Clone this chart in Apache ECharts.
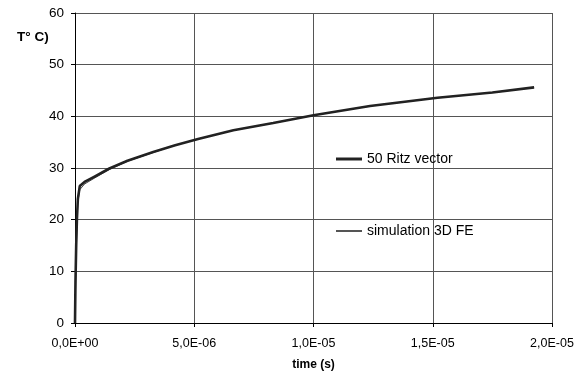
<!DOCTYPE html>
<html><head><meta charset="utf-8">
<script src="https://cdn.jsdelivr.net/npm/echarts@6/dist/echarts.min.js"></script>
<style>html,body{margin:0;padding:0;background:#fff}#c{width:588px;height:383px}</style>
</head><body><div id="c"></div>
<script>
var seriesNames = ['50 Ritz vector', 'simulation 3D FE'];
var ritzTime = [0, 0.02e-6, 0.05e-6, 0.08e-6, 0.12e-6, 0.2e-6, 0.4e-6, 0.8e-6, 1.44e-6, 2.2e-6, 3.28e-6, 4.2e-6, 5.16e-6, 6.64e-6, 8.31e-6, 10.0e-6, 12.37e-6, 15.2e-6, 17.5e-6, 19.25e-6];
var ritzTemp = [0, 8, 15, 20, 24, 26.5, 27.3, 28.3, 29.9, 31.4, 33.1, 34.4, 35.6, 37.3, 38.7, 40.2, 42.0, 43.6, 44.6, 45.6];
var feTime = [0, 0.02e-6, 0.05e-6, 0.08e-6, 0.12e-6, 0.2e-6, 0.4e-6, 0.8e-6, 1.44e-6, 2.2e-6, 3.28e-6, 4.2e-6, 5.16e-6, 6.64e-6, 8.31e-6, 10.0e-6, 12.37e-6, 15.2e-6, 17.5e-6, 19.25e-6];
var feTemp = [0, 6, 13, 19, 23.5, 25.8, 26.9, 28.0, 29.7, 31.3, 33.0, 34.4, 35.6, 37.3, 38.7, 40.2, 42.0, 43.6, 44.6, 45.6];
var xTickLabels = ['0,0E+00', '5,0E-06', '1,0E-05', '1,5E-05', '2,0E-05'];

function pairs(xs, ys) { return xs.map(function (x, i) { return [x, ys[i]]; }); }
var FONT = 'Liberation Sans, Arial, sans-serif';
var chart = echarts.init(document.getElementById('c'), null, {renderer: 'canvas'});
chart.setOption({
  animation: false,
  backgroundColor: '#fff',
  grid: {left: 75, right: 36, top: 13, bottom: 60, containLabel: false},
  xAxis: {
    type: 'value', min: 0, max: 2e-5, interval: 5e-6,
    name: 'time (s)', nameLocation: 'middle', nameGap: 36,
    nameTextStyle: {fontFamily: FONT, fontSize: 12, fontWeight: 'bold', color: '#000'},
    axisLine: {show: true, lineStyle: {color: '#000', width: 1}},
    axisTick: {show: true, length: 4, lineStyle: {color: '#000'}},
    axisLabel: {fontFamily: FONT, fontSize: 12.5, color: '#000', margin: 14,
      formatter: function (v) { return xTickLabels[Math.round(v / 5e-6)]; }},
    splitLine: {show: true, lineStyle: {color: '#555', width: 1}}
  },
  yAxis: {
    type: 'value', min: 0, max: 60, interval: 10,
    axisLine: {show: true, lineStyle: {color: '#000', width: 1}},
    axisTick: {show: true, length: 4, lineStyle: {color: '#000'}},
    axisLabel: {fontFamily: FONT, fontSize: 13.5, color: '#000', margin: 11},
    splitLine: {show: true, lineStyle: {color: '#555', width: 1}}
  },
  legend: [
    {data: [seriesNames[0]], left: 336, top: 152, padding: 0, icon: 'rect', itemWidth: 26, itemHeight: 3,
      textStyle: {fontFamily: FONT, fontSize: 14, color: '#000'}},
    {data: [seriesNames[1]], left: 336, top: 224, padding: 0, icon: 'rect', itemWidth: 26, itemHeight: 2,
      textStyle: {fontFamily: FONT, fontSize: 14, color: '#000'}}
  ],
  graphic: [{type: 'text', left: 17, top: 30,
    style: {text: 'T° C)', fontFamily: FONT, fontSize: 13.5, fontWeight: 'bold', fill: '#000'}}],
  series: [
    {name: seriesNames[1], type: 'line', data: pairs(feTime, feTemp), showSymbol: false, smooth: false,
      lineStyle: {color: '#444', width: 1}, itemStyle: {color: '#555'}, z: 2},
    {name: seriesNames[0], type: 'line', data: pairs(ritzTime, ritzTemp), showSymbol: false, smooth: false,
      lineStyle: {color: '#222', width: 2.6}, itemStyle: {color: '#222'}, z: 3}
  ]
});
</script></body></html>
